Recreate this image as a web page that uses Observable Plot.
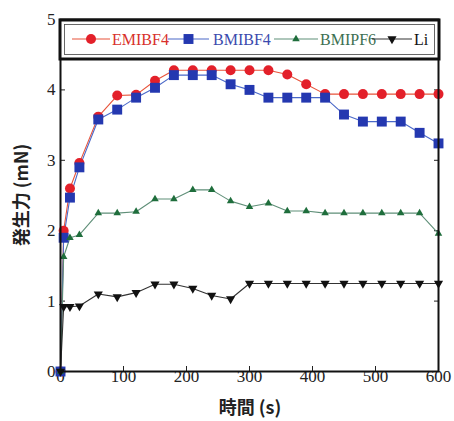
<!DOCTYPE html>
<html><head><meta charset="utf-8">
<script src="https://cdn.jsdelivr.net/npm/d3@7"></script>
<script src="https://cdn.jsdelivr.net/npm/@observablehq/plot@0.6"></script>
<style>body{margin:0;background:#fff;} #chart{width:454px;height:421px;} #chart svg text{font-family:'Liberation Serif',serif;}</style>
</head><body><div id="chart"></div>
<script>
const times = [0, 5, 15, 30, 60, 90, 120, 150, 180, 210, 240, 270, 300, 330, 360, 390, 420, 450, 480, 510, 540, 570, 600];
const emibf4 = [0, 2.0, 2.6, 2.96, 3.62, 3.92, 3.93, 4.13, 4.28, 4.28, 4.28, 4.28, 4.28, 4.28, 4.22, 4.08, 3.94, 3.94, 3.94, 3.94, 3.94, 3.94, 3.94];
const bmibf4 = [0, 1.9, 2.47, 2.9, 3.58, 3.72, 3.89, 4.03, 4.21, 4.21, 4.21, 4.08, 4.0, 3.89, 3.89, 3.89, 3.89, 3.65, 3.55, 3.55, 3.55, 3.39, 3.24];
const bmipf6 = [0, 1.63, 1.9, 1.94, 2.25, 2.25, 2.27, 2.45, 2.45, 2.58, 2.58, 2.42, 2.34, 2.39, 2.28, 2.28, 2.25, 2.25, 2.25, 2.25, 2.25, 2.25, 1.96];
const li = [0, 0.92, 0.92, 0.93, 1.1, 1.06, 1.12, 1.24, 1.24, 1.18, 1.08, 1.03, 1.25, 1.25, 1.25, 1.25, 1.25, 1.25, 1.25, 1.25, 1.25, 1.25, 1.25];
const seriesNames = ["EMIBF4", "BMIBF4", "BMIPF6", "Li"];
const seriesValues = [emibf4, bmibf4, bmipf6, li];
const markColors = ["#e3202a", "#2438b0", "#1f6e3c", "#111111"];
const lineColors = ["#e8533a", "#4a68c8", "#5f8f78", "#333333"];
const textColors = ["#d8302c", "#3b4aae", "#3d6f52", "#111111"];
const symbols = ["circle", "square", "triangle", "triangle"];
const rotations = [0, 0, 0, 180];
const radii = [5, 5.6, 2.8, 3.4];
const xTicks = [0, 100, 200, 300, 400, 500, 600];
const yTicks = [0, 1, 2, 3, 4, 5];
const xTitle = "時間 (s)";
const yTitle = "発生力 (mN)";

const rows = [];
seriesValues.forEach((vals, i) => vals.forEach((v, j) => rows.push({series: seriesNames[i], t: times[j], f: v})));

const marks = [];
seriesNames.forEach((name, i) => {
  const d = rows.filter(r => r.series === name);
  marks.push(Plot.line(d, {x: "t", y: "f", stroke: lineColors[i], strokeWidth: 1.1}));
});
seriesNames.forEach((name, i) => {
  const d = rows.filter(r => r.series === name);
  marks.push(Plot.dot(d, {x: "t", y: "f", symbol: symbols[i], fill: markColors[i], stroke: "none", r: radii[i], rotate: rotations[i]}));
});

const serif = "'Liberation Serif', serif";
const plot = Plot.plot({
  width: 454, height: 421,
  marginLeft: 60, marginRight: 16, marginTop: 19, marginBottom: 50,
  style: {fontSize: "17px", fontFamily: "Liberation Serif, serif", background: "#fff", color: "#222"},
  x: {domain: [0, 600]},
  y: {domain: [0, 5]},
  marks: [
    Plot.axisX({ticks: xTicks, tickSize: -5, tickPadding: 3, label: null, fontFamily: "Liberation Serif", tickFormat: d => String(d)}),
    Plot.axisY({ticks: yTicks, tickSize: -5, tickPadding: 10, label: null, fontFamily: "Liberation Serif", tickFormat: d => String(d)}),
    Plot.axisX({anchor: "top", ticks: xTicks, tickSize: -5, label: null, fontFamily: "Liberation Serif", tickFormat: () => ""}),
    Plot.axisY({anchor: "right", ticks: yTicks, tickSize: -5, label: null, fontFamily: "Liberation Serif", tickFormat: () => ""}),
    ...marks,
    Plot.frame({stroke: "#111", strokeWidth: 2})
  ]
});
document.getElementById("chart").appendChild(plot);
plot.setAttribute("font-family", "Liberation Serif, serif");

const svg = d3.select(plot);
svg.selectAll("text").style("font-family", serif);
// axis titles
svg.append("text").attr("x", 250).attr("y", 414).attr("text-anchor", "middle")
  .attr("style", "font-family:'Noto Sans CJK JP',sans-serif;font-weight:bold;font-size:18px")
  .attr("fill", "#222").text(xTitle);
svg.append("text").attr("transform", "translate(28,195) rotate(-90)").attr("text-anchor", "middle")
  .attr("style", "font-family:'Noto Sans CJK JP',sans-serif;font-weight:bold;font-size:18px")
  .attr("fill", "#222").text(yTitle);

// legend box
const lg = svg.append("g");
lg.append("rect").attr("x", 60).attr("y", 20).attr("width", 379).attr("height", 39)
  .attr("fill", "#fff").attr("stroke", "#111").attr("stroke-width", 3);
lg.append("rect").attr("x", 64.5).attr("y", 24.5).attr("width", 370).attr("height", 30)
  .attr("fill", "none").attr("stroke", "#444").attr("stroke-width", 0.8);
const items = [
  {x0: 72, x1: 110, tx: 112},
  {x0: 168, x1: 209, tx: 213},
  {x0: 274, x1: 318, tx: 320},
  {x0: 372, x1: 412, tx: 414}
];
const sym = {circle: d3.symbolCircle, square: d3.symbolSquare, triangle: d3.symbolTriangle};
items.forEach((it, i) => {
  const cy = 39;
  lg.append("line").attr("x1", it.x0).attr("x2", it.x1).attr("y1", cy).attr("y2", cy)
    .attr("stroke", lineColors[i]).attr("stroke-width", 1.2);
  const cx = (it.x0 + it.x1) / 2;
  lg.append("path").attr("d", d3.symbol(sym[symbols[i]], Math.PI * radii[i] * radii[i])())
    .attr("transform", `translate(${cx},${cy}) rotate(${rotations[i]})`).attr("fill", markColors[i]);
  lg.append("text").attr("x", it.tx).attr("y", cy + 6).attr("text-anchor", "start")
    .style("font-family", serif).style("font-size", "16px")
    .attr("fill", textColors[i]).text(seriesNames[i]);
});
</script>
</body></html>
